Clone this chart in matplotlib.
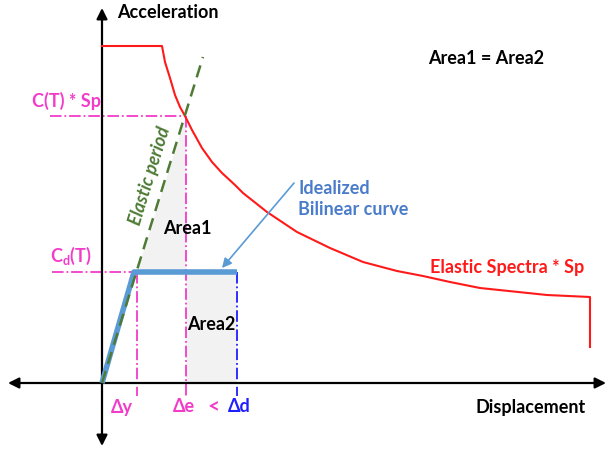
import matplotlib
matplotlib.use('Agg')
import matplotlib.pyplot as plt

# Sketch coordinates (pixel-like units, y grows downward)

# Elastic spectrum * Sp
spec_x = [102, 162, 165, 170, 175, 180, 185, 192, 202, 212, 222, 235, 243,
          267, 297, 330, 363, 397, 423, 450, 480, 547, 590, 590]
spec_y = [46, 46, 62, 78, 95, 107, 116, 130, 148, 162, 173, 185, 193,
          212, 232, 248, 262, 271, 276, 282, 288, 295, 297, 347]

# Elastic period line
elastic_x = [102, 203]
elastic_y = [383, 57]

# Idealized bilinear curve
bilin_x = [102, 134, 237]
bilin_y = [383, 272, 272]

# Key levels
dy_x, de_x, dd_x = 137, 186, 237
cts_y, cd_y = 116, 272

# Shaded areas
area1_x = [137, 186, 186]
area1_y = [272, 116, 272]
area2_x = [186, 237, 237, 186]
area2_y = [272, 272, 383, 383]

pink = '#f23cc9'
blue = '#5b9bd5'
red = '#ff1a1a'
green = '#4e7a35'

plt.rcParams['font.family'] = ['Lato', 'DejaVu Sans']
plt.rcParams['font.weight'] = 'bold'
plt.rcParams['mathtext.fontset'] = 'custom'
plt.rcParams['mathtext.rm'] = 'Lato:bold'
plt.rcParams['mathtext.it'] = 'Lato:bold'

fig = plt.figure(figsize=(6.11, 4.5), dpi=100)
ax = fig.add_axes([0, 0, 1, 1])
ax.set_xlim(0, 611)
ax.set_ylim(450, 0)
ax.axis('off')

ax.fill(area1_x, area1_y, color='#f2f2f2', lw=0, zorder=1)
ax.fill(area2_x, area2_y, color='#f2f2f2', lw=0, zorder=1)

# axes arrows
ax.annotate('', xy=(102, 8), xytext=(102, 446),
            arrowprops=dict(arrowstyle='<|-|>', color='black', lw=1.6,
                            mutation_scale=16, shrinkA=0, shrinkB=0), zorder=3)
ax.annotate('', xy=(8, 383), xytext=(606, 383),
            arrowprops=dict(arrowstyle='<|-|>', color='black', lw=1.6,
                            mutation_scale=16, shrinkA=0, shrinkB=0), zorder=3)

# dash-dot guides
ax.plot([50, de_x], [cts_y, cts_y], color=pink, lw=1.3, ls='-.', zorder=2)
ax.plot([de_x, de_x], [cts_y, 396], color=pink, lw=1.3, ls='-.', zorder=2)
ax.plot([52, dy_x], [cd_y, cd_y], color=pink, lw=1.3, ls='-.', zorder=2)
ax.plot([dy_x, dy_x], [cd_y, 396], color=pink, lw=1.3, ls='-.', zorder=2)
ax.plot([dd_x, dd_x], [cd_y, 396], color='#1f1fff', lw=1.3, ls='-.', zorder=2)

ax.plot(spec_x, spec_y, color=red, lw=1.5, zorder=4)
ax.plot(bilin_x, bilin_y, color=blue, lw=4, solid_capstyle='butt', zorder=4)
ax.plot(elastic_x, elastic_y, color=green, lw=1.8, ls=(0, (5, 3)), zorder=5)

ax.annotate('', xy=(222, 268), xytext=(294, 183),
            arrowprops=dict(arrowstyle='-|>', color=blue, lw=1.2,
                            mutation_scale=14, shrinkA=0, shrinkB=0), zorder=6)

fs = 13
ax.text(117, 12, 'Acceleration', fontsize=fs, va='center', ha='left')
ax.text(531, 407, 'Displacement', fontsize=fs, va='center', ha='center')
ax.text(66, 101, 'C(T) * Sp', fontsize=fs, color=pink, va='center', ha='center')
ax.text(71, 256, r'C$_{\mathrm{d}}$(T)', fontsize=fs, color=pink, va='center', ha='center')
ax.text(150, 176, 'Elastic period', fontsize=fs, color=green, style='italic',
        rotation=72.8, va='center', ha='center')
ax.text(187, 228, 'Area1', fontsize=fs, va='center', ha='center')
ax.text(211, 325, 'Area2', fontsize=fs, va='center', ha='center')
ax.text(298, 199, 'Idealized\nBilinear curve', fontsize=fs, color='#4a7cc9',
        va='center', ha='left', linespacing=1.3)
ax.text(486, 59, 'Area1 = Area2', fontsize=fs, va='center', ha='center')
ax.text(507, 268, 'Elastic Spectra * Sp', fontsize=fs, color=red, va='center', ha='center')
ax.text(122, 407, 'Δy', fontsize=fs, color=pink, va='center', ha='center')
ax.text(184, 407, 'Δe', fontsize=fs, color=pink, va='center', ha='center')
ax.text(213, 406, '<', fontsize=fs + 2, color=pink, va='center', ha='center')
ax.text(239, 407, 'Δd', fontsize=fs, color='#1f1fff', va='center', ha='center')

plt.savefig('out.png', dpi=100)
